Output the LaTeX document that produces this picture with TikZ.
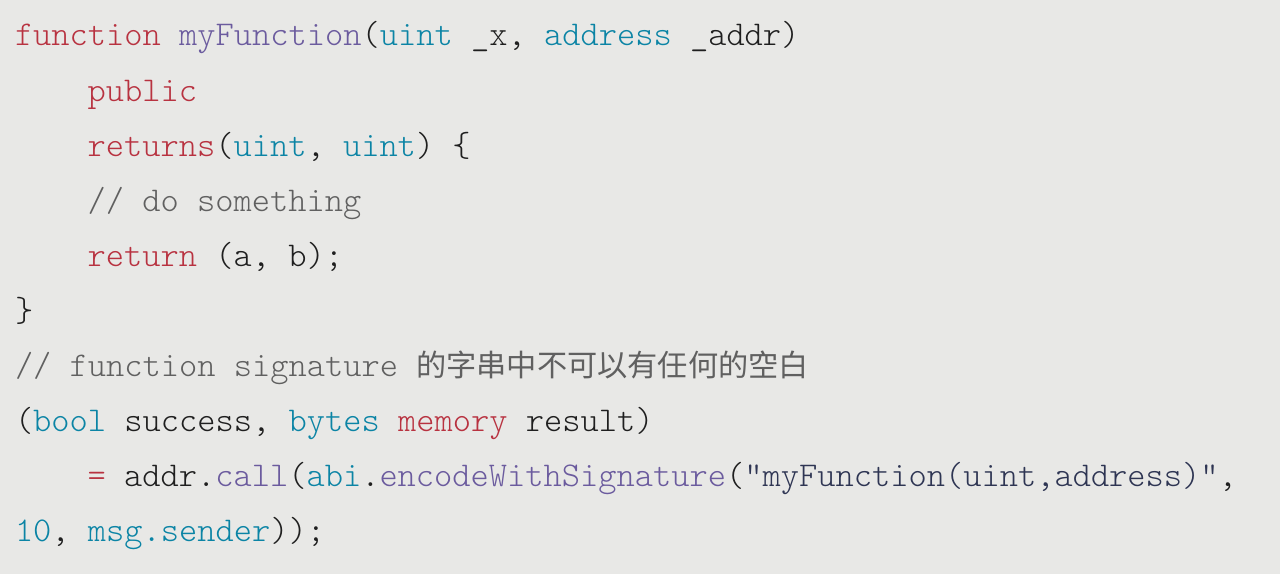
\documentclass[tikz,border=0pt]{standalone}
\usepackage{fontspec}
\setmonofont{Latin Modern Mono Light}
\newfontfamily\cjkfont{Noto Sans CJK TC}
\definecolor{bgc}{HTML}{E8E8E6}
\definecolor{kwc}{HTML}{B83240}
\definecolor{fnc}{HTML}{6B5B9E}
\definecolor{tyc}{HTML}{0B84A5}
\definecolor{cmc}{HTML}{606060}
\definecolor{txc}{HTML}{1F1F1F}
\definecolor{stc}{HTML}{2E3553}
\newcommand{\kwx}[1]{\textcolor{kwc}{#1}}
\newcommand{\fnx}[1]{\textcolor{fnc}{#1}}
\newcommand{\tyx}[1]{\textcolor{tyc}{#1}}
\newcommand{\cmx}[1]{\textcolor{cmc}{#1}}
\newcommand{\stx}[1]{\textcolor{stc}{#1}}
\begin{document}
\begin{tikzpicture}[x=1pt,y=1pt,
  codeline/.style={anchor=base west,inner sep=0pt,outer sep=0pt,text=txc,
    font=\ttfamily\fontsize{34.75}{40}\selectfont}]
\fill[bgc] (0,0) rectangle (1280,574);
\useasboundingbox (0,0) rectangle (1280,574);
\def\cw{18.15}
\def\ox{15}
\node[codeline] (l1) at (\ox,{574-46}) {\kwx{function} \fnx{myFunction}(\tyx{uint} \_x, \tyx{address} \_addr)};
\node[codeline] (l2) at ({\ox+4*\cw},{574-46-55.1}) {\kwx{public}};
\node[codeline] (l3) at ({\ox+4*\cw},{574-46-2*55.1}) {\kwx{returns}(\tyx{uint}, \tyx{uint}) \{};
\node[codeline] (l4) at ({\ox+4*\cw},{574-46-3*55.1}) {\cmx{// do something}};
\node[codeline] (l5) at ({\ox+4*\cw},{574-46-4*55.1}) {\kwx{return} (a, b);};
\node[codeline] (l6) at (\ox,{574-46-5*55.1}) {\}};
\node[codeline] (l7) at (\ox,{574-46-6*55.1}) {\cmx{// function signature {\cjkfont\fontsize{30.2}{36}\selectfont 的字串中不可以有任何的空白}}};
\node[codeline] (l8) at (\ox,{574-46-7*55.1}) {(\tyx{bool} success, \tyx{bytes} \kwx{memory} result)};
\node[codeline] (l9) at ({\ox+4*\cw},{574-46-8*55.1}) {\kwx{=} addr.\fnx{call}(\tyx{abi}.\fnx{encodeWithSignature}(\stx{"myFunction(uint,address)"},};
\node[codeline] (l10) at (\ox,{574-46-9*55.1}) {\tyx{10}, \tyx{msg.sender}));};
\end{tikzpicture}
\end{document}
